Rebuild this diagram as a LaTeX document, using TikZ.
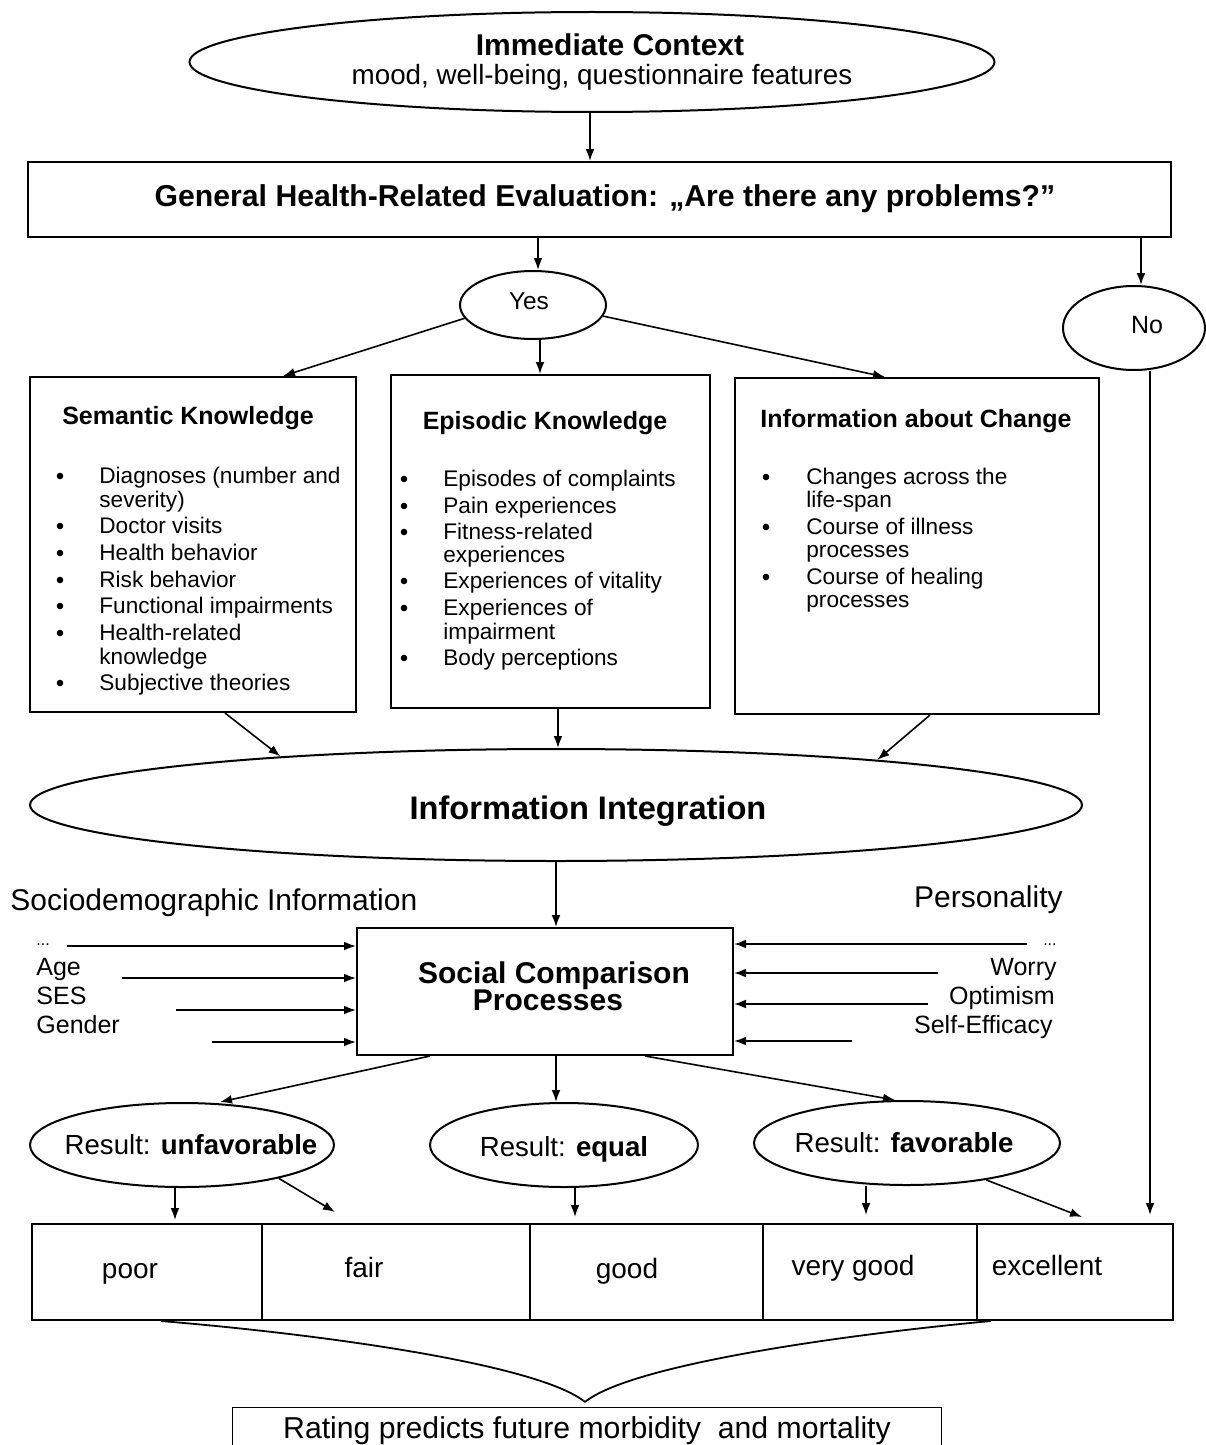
\documentclass[tikz,border=0pt]{standalone}
\usepackage{fontspec}
\setmainfont{Liberation Sans}
\usetikzlibrary{shapes.geometric,arrows.meta}
\begin{document}
\begin{tikzpicture}[x=0.5pt,y=-0.5pt,
  frame/.style={draw,line width=1pt,rectangle,inner sep=0pt},
  oval/.style={draw,line width=1pt,ellipse,inner sep=0pt},
  lbl/.style={inner sep=0pt,anchor=base},
  lblw/.style={inner sep=0pt,anchor=base west},
  lble/.style={inner sep=0pt,anchor=base east},
  item/.style={lblw,font=\fontsize{11.3}{12}\selectfont},
  blt/.style={circle,fill,inner sep=0pt,minimum size=3.3pt},
  head/.style={lbl,font=\fontsize{12.5}{14}\selectfont\bfseries},
  side/.style={font=\fontsize{12.5}{14}\selectfont},
  big/.style={font=\fontsize{15}{17}\selectfont},
  res/.style={lbl,font=\fontsize{13.8}{16}\selectfont},
  cell/.style={lbl,font=\fontsize{14}{16}\selectfont},
  arr/.style={-{Latex[length=6pt,width=4.4pt]},line width=0.8pt},
]
\useasboundingbox (0,0) rectangle (1205,1445);

% ---- immediate context ----
\node[oval,minimum width=402.5pt,minimum height=50pt] (ctx) at (592,62) {};
\node[lbl,font=\fontsize{15}{17}\selectfont\bfseries] (ctxa) at (610,56) {Immediate Context};
\node[lbl,font=\fontsize{13.9}{16}\selectfont] (ctxb) at (602,85) {mood, well-being, questionnaire features};

% ---- general evaluation ----
\node[frame,minimum width=571.5pt,minimum height=37.5pt] (gen) at (599.5,199.5) {};
\node[lbl,font=\fontsize{15.1}{17}\selectfont\bfseries] (gent) at (605,206) {General Health-Related Evaluation: „Are there any problems?”};

% ---- yes / no ----
\node[oval,minimum width=73pt,minimum height=34pt] (yes) at (533,305) {};
\node[lbl,font=\fontsize{12.2}{14}\selectfont] (yest) at (529,309) {Yes};
\node[oval,minimum width=71pt,minimum height=42pt] (no) at (1134,328) {};
\node[lbl,font=\fontsize{12.5}{14}\selectfont] (not) at (1147,333) {No};

% ---- knowledge boxes ----
\node[frame,minimum width=163pt,minimum height=167.5pt] (sem) at (193,544.5) {};
\node[frame,minimum width=159.5pt,minimum height=166.5pt] (epi) at (550.5,541.5) {};
\node[frame,minimum width=182pt,minimum height=168pt] (chg) at (917,546) {};

\node[head] (semt) at (188,424) {Semantic Knowledge};
\node[head] (epit) at (545,429) {Episodic Knowledge};
\node[head] (chgt) at (916,427) {Information about Change};

% semantic knowledge list
\node[blt] (sb1) at (60,476) {};
\node[item] (s1) at (99,483) {Diagnoses (number and};
\node[item] (s1b) at (99,507) {severity)};
\node[blt] (sb2) at (60,526) {};
\node[item] (s2) at (99,533) {Doctor visits};
\node[blt] (sb3) at (60,553) {};
\node[item] (s3) at (99,560) {Health behavior};
\node[blt] (sb4) at (60,580) {};
\node[item] (s4) at (99,587) {Risk behavior};
\node[blt] (sb5) at (60,606) {};
\node[item] (s5) at (99,613) {Functional impairments};
\node[blt] (sb6) at (60,633) {};
\node[item] (s6) at (99,640) {Health-related};
\node[item] (s6b) at (99,664) {knowledge};
\node[blt] (sb7) at (60,683) {};
\node[item] (s7) at (99,690) {Subjective theories};

% episodic knowledge list
\node[blt] (eb1) at (404,479) {};
\node[item] (e1) at (443,486) {Episodes of complaints};
\node[blt] (eb2) at (404,506) {};
\node[item] (e2) at (443,513) {Pain experiences};
\node[blt] (eb3) at (404,532) {};
\node[item] (e3) at (443,539) {Fitness-related};
\node[item] (e3b) at (443,562) {experiences};
\node[blt] (eb4) at (404,581) {};
\node[item] (e4) at (443,588) {Experiences of vitality};
\node[blt] (eb5) at (404,608) {};
\node[item] (e5) at (443,615) {Experiences of};
\node[item] (e5b) at (443,639) {impairment};
\node[blt] (eb6) at (404,658) {};
\node[item] (e6) at (443,665) {Body perceptions};

% change list
\node[blt] (cb1) at (766,477) {};
\node[item] (c1) at (806,484) {Changes across the};
\node[item] (c1b) at (806,507) {life-span};
\node[blt] (cb2) at (766,527) {};
\node[item] (c2) at (806,534) {Course of illness};
\node[item] (c2b) at (806,557) {processes};
\node[blt] (cb3) at (766,577) {};
\node[item] (c3) at (806,584) {Course of healing};
\node[item] (c3b) at (806,607) {processes};

% ---- information integration ----
\node[oval,minimum width=526pt,minimum height=56pt] (integ) at (556,805) {};
\node[lbl,font=\fontsize{16.3}{18}\selectfont\bfseries] (integt) at (588,819) {Information Integration};

% ---- social comparison ----
\node[frame,minimum width=188pt,minimum height=63.5pt] (soc) at (545,991.5) {};
\node[lbl,font=\fontsize{15}{17}\selectfont\bfseries] (soca) at (554,983) {Social Comparison};
\node[lbl,font=\fontsize{15}{17}\selectfont\bfseries] (socb) at (548,1010) {Processes};

\node[lblw,big] (socio) at (10,910) {Sociodemographic Information};
\node[lble,big] (pers) at (1063,907) {Personality};

\node[lblw,side] (ldots) at (36,945) {\fontsize{8}{9}\selectfont...};
\node[lblw,side] (age) at (36,975) {Age};
\node[lblw,side] (ses) at (36,1004) {SES};
\node[lblw,side] (gend) at (36,1033) {Gender};

\node[lble,side] (rdots) at (1057,945) {\fontsize{8}{9}\selectfont...};
\node[lble,side] (worry) at (1057,975) {Worry};
\node[lble,side] (opt) at (1055,1004) {Optimism};
\node[lble,side] (selfe) at (1053,1033) {Self-Efficacy};

\coordinate (la1) at (67,946);
\coordinate (la2) at (122,978);
\coordinate (la3) at (176,1010);
\coordinate (la4) at (212,1042);
\coordinate (ra1) at (1027,944);
\coordinate (ra2) at (938,973);
\coordinate (ra3) at (928,1004);
\coordinate (ra4) at (852,1041);

% ---- results ----
\node[oval,minimum width=152pt,minimum height=42pt] (unf) at (182,1145) {};
\node[res] (unft) at (191,1154) {Result: \textbf{unfavorable}};
\node[oval,minimum width=134pt,minimum height=42pt] (eq) at (564,1145) {};
\node[res] (eqt) at (564,1156) {Result: \textbf{equal}};
\node[oval,minimum width=153pt,minimum height=42pt] (fav) at (907,1143) {};
\node[res] (favt) at (904,1152) {Result: \textbf{favorable}};

% ---- rating scale ----
\node[frame,minimum width=115pt,minimum height=48pt] (poorc) at (147,1272) {};
\node[frame,minimum width=134pt,minimum height=48pt] (fairc) at (396,1272) {};
\node[frame,minimum width=116.5pt,minimum height=48pt] (goodc) at (646.5,1272) {};
\node[frame,minimum width=107pt,minimum height=48pt] (vgc) at (870,1272) {};
\node[frame,minimum width=98pt,minimum height=48pt] (excc) at (1075,1272) {};
\node[cell] (poort) at (130,1278) {poor};
\node[cell] (fairt) at (364,1277) {fair};
\node[cell] (goodt) at (627,1278) {good};
\node[cell] (vgt) at (853,1275) {very good};
\node[cell] (exct) at (1047,1275) {excellent};

% ---- prediction ----
\node[inner sep=0pt,minimum width=354pt,minimum height=30pt] (bot) at (587,1438) {};
\draw[line width=0.7pt] (bot.south west) -- (bot.north west) -- (bot.north east) -- (bot.south east);
\node[lbl,font=\fontsize{15.1}{17}\selectfont] (bott) at (587,1438) {Rating predicts future morbidity\ \ and mortality};
\coordinate (tip) at (585,1402);

% ---- connectors ----
\draw[arr] (590,0 |- ctx.south) -- (590,0 |- gen.north);
\draw[arr] (538,0 |- gen.south) -- (538,0 |- yes.north);
\draw[arr] (1141,0 |- gen.south) -- (1141,0 |- no.north);
\draw[arr] (yes.191) -- (283,0 |- sem.north);
\draw[arr] (540,0 |- yes.south) -- (540,0 |- epi.north);
\draw[arr] (yes.351) -- (885,0 |- chg.north);
\draw[arr] (225,0 |- sem.south) -- (integ.170);
\draw[arr] (558,0 |- epi.south) -- (558,0 |- integ.north);
\draw[arr] (930,0 |- chg.south) -- (integ.8);
\draw[arr] (556,0 |- integ.south) -- (556,0 |- soc.north);

\draw[arr] (la1) -- (la1 -| soc.west);
\draw[arr] (la2) -- (la2 -| soc.west);
\draw[arr] (la3) -- (la3 -| soc.west);
\draw[arr] (la4) -- (la4 -| soc.west);
\draw[arr] (ra1) -- (ra1 -| soc.east);
\draw[arr] (ra2) -- (ra2 -| soc.east);
\draw[arr] (ra3) -- (ra3 -| soc.east);
\draw[arr] (ra4) -- (ra4 -| soc.east);

\draw[arr] (430,0 |- soc.south) -- (220,0 |- unf.north);
\draw[arr] (556,0 |- soc.south) -- (556,0 |- eq.north);
\draw[arr] (645,0 |- soc.south) -- (895,0 |- fav.north);

\coordinate (p1) at (175,1220);
\coordinate (p2) at (335,1212);
\coordinate (p3) at (575,1217);
\coordinate (p4) at (866,1215);
\coordinate (p5) at (1082,1217);
\coordinate (p6) at (1150,1215);
\draw[arr] (175,0 |- unf.south) -- (p1);
\draw[arr] (unf.-19) -- (p2);
\draw[arr] (575,0 |- eq.south) -- (p3);
\draw[arr] (866,0 |- fav.south) -- (p4);
\draw[arr] (fav.-25) -- (p5);
\draw[arr] (1150,0 |- no.south) -- (p6);

% brace joining the scale to the prediction
\draw[line width=0.9pt] (161,0 |- poorc.south) .. controls (330,1335) and (540,1365) .. (tip);
\draw[line width=0.9pt] (991,0 |- excc.south) .. controls (840,1335) and (630,1365) .. (tip);
\end{tikzpicture}
\end{document}
